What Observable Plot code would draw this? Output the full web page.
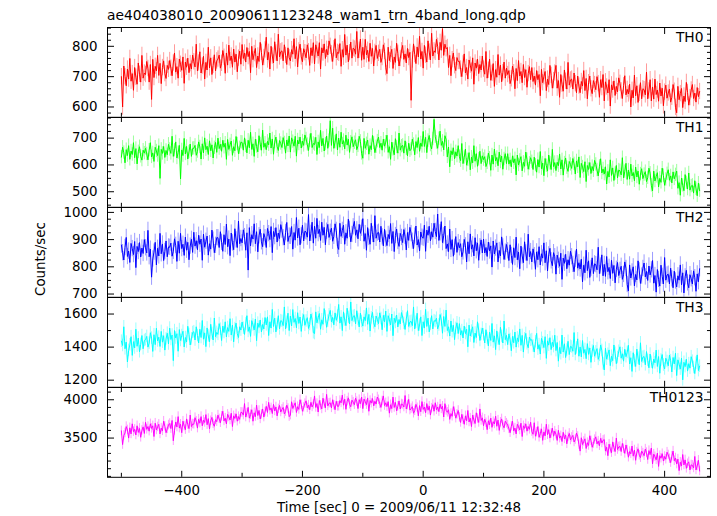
<!DOCTYPE html>
<html><head><meta charset="utf-8">
<script src="https://cdn.jsdelivr.net/npm/d3@7"></script>
<script src="https://cdn.jsdelivr.net/npm/@observablehq/plot@0.6"></script>
<style>
body{margin:0;background:#fff;}
#chart{position:relative;width:717px;height:516px;font-family:"DejaVu Sans",sans-serif;color:#000;background:#fff;overflow:hidden;}
#chart svg{position:absolute;left:0;}
.title{position:absolute;left:107px;top:9px;font-size:13.8px;line-height:1;white-space:nowrap;}
.xlabel{position:absolute;left:399px;top:500.7px;font-size:13.4px;line-height:1;white-space:nowrap;transform:translateX(-50%);}
.ylabel{position:absolute;left:41px;top:259px;font-size:13.4px;line-height:1;white-space:nowrap;transform:translate(-50%,-50%) rotate(-90deg);}
</style></head><body>
<div id="chart">
  <div class="title">ae404038010_20090611123248_wam1_trn_4band_long.qdp</div>
  <div class="ylabel">Counts/sec</div>
  <div class="xlabel">Time [sec] 0 = 2009/06/11 12:32:48</div>
</div>
<script>
// ---- data ----
const tStart = -500, tStep = 2; // sample time grid (sec)
const bandNames = ["TH0", "TH1", "TH2", "TH3", "TH0123"];
const bandColors = ["#ff0000", "#00ff00", "#0000ff", "#00ffff", "#ff00ff"];
const bandErrors = [27, 25, 30, 38, 62];

const th0 = [
700,600,735,700,670,725,692,760,685,710,655,730,698,675,745,708,682,770,695,712,
707,750,727,682,740,625,757,697,734,719,770,704,744,677,730,752,710,694,737,724,
753,728,703,745,778,715,733,695,758,741,721,765,678,748,731,761,713,743,725,771,
749,732,807,719,745,782,712,735,767,692,747,722,797,729,762,707,737,772,719,752,
758,771,728,744,786,764,711,778,738,804,753,768,731,791,748,774,716,761,784,741,
806,760,778,748,796,766,783,713,800,756,776,793,730,768,750,813,780,738,763,788,
830,755,780,725,800,768,745,815,778,752,840,765,782,785,752,805,770,740,795,762,
752,789,774,825,759,799,732,785,807,765,749,792,779,762,805,782,737,795,769,812,
742,805,788,768,812,725,795,778,808,760,790,772,818,800,775,750,792,825,762,780,
777,809,734,789,764,839,771,804,749,779,814,761,794,791,774,849,761,787,824,754,
797,757,823,772,787,750,810,767,793,735,780,803,760,777,790,747,763,805,783,730,
710,797,753,773,790,727,765,747,810,777,735,760,785,803,757,775,745,793,763,780,
622,755,808,773,743,798,765,833,758,783,728,803,771,748,818,781,755,843,768,785,
780,823,800,755,813,787,858,770,807,792,796,730,770,703,756,778,736,720,763,750,
750,725,700,742,775,712,730,692,755,738,718,762,675,745,728,758,710,740,722,768,
725,708,783,695,721,758,688,711,743,668,723,698,773,705,738,683,713,748,695,728,
707,720,677,693,735,713,660,727,687,753,702,717,680,740,697,723,665,710,733,690,
730,684,702,672,720,690,707,637,724,680,700,717,654,692,674,737,704,662,687,712,
737,662,687,632,707,675,652,722,685,659,747,672,689,692,659,712,677,647,702,669,
647,684,669,720,654,694,627,680,702,660,644,687,674,657,700,677,632,690,664,707,
620,683,666,646,690,603,673,656,686,638,668,650,696,678,653,628,670,703,640,658,
643,675,600,655,630,705,637,670,615,645,680,627,660,657,640,715,627,653,690,620,
666,626,692,641,656,619,679,636,662,604,649,672,629,646,659,616,632,674,652,599,
581,668,624,644,661,598,636,618,681,648,606,631,656,674,628,646,616,664,634,651];

const th1 = [
629,666,646,608,657,635,672,621,652,639,683,627,661,604,649,668,632,618,655,644,
662,641,619,655,683,630,645,613,666,652,635,672,550,658,643,669,628,654,638,677,
658,643,707,632,655,686,626,646,673,548,656,635,699,641,669,622,648,678,632,661,
662,673,636,650,686,667,622,679,645,701,657,670,639,690,653,675,626,664,684,647,
700,661,677,651,692,666,681,621,695,658,675,689,636,668,653,706,678,642,664,685,
684,655,701,671,645,692,664,722,658,679,632,696,669,649,709,678,655,730,666,681,
657,688,675,719,663,697,640,685,704,668,654,691,680,665,702,682,644,693,671,708,
648,701,687,670,707,633,693,678,704,663,689,673,712,697,676,654,690,718,665,680,
676,703,639,686,665,729,671,699,652,678,708,662,691,765,673,737,662,685,716,656,
700,666,722,678,691,660,711,674,696,647,685,705,668,683,694,657,671,707,688,643,
625,699,662,679,693,640,672,657,710,682,646,668,689,704,665,681,655,696,670,685,
711,647,668,621,685,658,638,698,667,644,719,655,670,673,644,690,660,634,681,653,
659,696,676,638,687,665,702,651,682,669,725,669,703,646,691,710,674,660,697,770,
705,684,662,698,726,673,688,656,709,695,630,667,593,653,638,664,623,649,633,672,
631,616,680,605,628,659,599,619,646,582,629,608,672,614,642,595,621,651,605,634,
620,631,594,608,644,625,580,637,603,659,615,628,597,648,611,633,584,622,642,605,
642,603,619,593,634,608,623,563,637,600,617,631,578,610,595,648,620,584,606,627,
612,583,629,599,573,620,592,650,586,607,560,624,597,577,637,606,583,658,594,609,
579,610,597,641,585,619,562,607,626,590,576,613,602,587,624,604,566,615,593,630,
553,606,592,575,612,538,598,583,609,568,594,578,617,602,581,559,595,623,570,585,
566,593,529,576,555,619,561,589,542,568,598,552,581,578,563,627,552,575,606,546,
581,547,603,559,572,541,592,555,577,528,566,586,549,564,575,538,552,588,569,524,
503,577,540,557,571,518,550,535,588,560,524,546,567,582,543,559,533,574,548,563,
577,513,534,487,551,524,504,564,533,510,570,506,521,524,495,541,511,485,532,504];

const th2 = [
880,852,825,871,908,838,858,816,886,867,845,893,797,875,856,889,836,869,849,900,
870,851,934,837,865,762,829,854,890,807,868,840,923,848,884,823,856,895,837,873,
872,887,839,857,903,879,820,894,850,923,867,883,842,909,861,890,826,876,901,853,
927,876,896,863,916,883,902,824,920,872,894,913,843,885,865,935,898,852,879,907,
907,871,929,890,857,918,882,957,874,902,841,924,888,863,940,899,871,968,885,904,
888,936,911,861,925,788,944,877,918,902,958,885,929,855,914,938,892,874,922,907,
871,941,922,900,948,852,930,911,944,891,924,904,955,935,907,880,926,963,893,913,
912,948,865,926,898,981,906,942,881,914,953,895,931,928,909,992,895,923,964,887,
949,905,978,922,938,897,964,916,945,881,931,956,908,927,942,894,912,958,934,875,
864,960,912,934,953,883,925,905,975,938,892,919,947,967,916,936,903,956,923,942,
977,894,922,861,944,908,883,960,919,891,988,905,924,927,891,949,910,877,938,902,
878,919,903,959,886,930,856,915,939,893,875,923,908,889,937,912,862,926,897,945,
922,894,867,913,950,880,900,858,928,909,905,953,857,935,916,949,896,929,909,960,
930,911,994,897,925,966,889,914,950,867,884,856,939,864,900,839,872,911,853,889,
870,885,837,855,901,877,818,892,848,921,865,881,840,907,859,888,824,874,899,851,
902,851,871,838,891,858,877,799,895,847,869,888,818,860,840,910,873,827,854,882,
859,823,881,842,809,870,834,909,826,854,793,876,840,815,892,851,823,920,837,856,
818,866,841,791,855,826,874,807,848,832,888,815,859,785,844,868,822,804,852,837,
773,843,824,802,850,754,832,813,846,793,826,806,857,837,809,782,828,865,795,815,
792,828,745,806,778,861,786,822,761,794,833,775,811,808,789,872,775,803,844,767,
809,765,838,782,798,757,824,776,805,741,791,816,768,787,802,754,772,818,794,735,
711,807,759,781,800,730,772,752,822,785,739,766,794,814,763,783,750,803,770,789,
823,740,768,707,790,754,729,806,765,737,834,751,770,773,737,795,756,723,784,748,
726,767,751,807,734,778,704,763,787,741,723,771,756,737,785,760,710,774,745,793];

const th3 = [
1436,1410,1523,1390,1430,1310,1380,1414,1463,1350,1433,1395,1508,1405,1455,1372,1417,1470,1390,1440,
1445,1465,1400,1424,1487,1454,1374,1475,1415,1514,1437,1460,1404,1495,1430,1469,1382,1450,1484,1419,
1515,1446,1473,1318,1500,1455,1481,1375,1506,1440,1470,1496,1401,1458,1431,1526,1476,1413,1450,1488,
1493,1443,1523,1470,1425,1508,1458,1561,1448,1486,1403,1516,1467,1433,1538,1483,1443,1576,1463,1489,
1477,1542,1508,1440,1527,1488,1553,1462,1518,1495,1572,1473,1533,1432,1512,1545,1482,1458,1523,1503,
1552,1514,1477,1540,1590,1495,1522,1465,1560,1534,1504,1570,1439,1545,1519,1564,1492,1537,1510,1579,
1534,1583,1470,1553,1515,1628,1525,1575,1492,1537,1590,1510,1560,1556,1530,1643,1510,1550,1605,1500,
1588,1528,1627,1550,1573,1517,1608,1543,1582,1495,1563,1597,1532,1558,1578,1513,1537,1600,1567,1487,
1482,1613,1547,1577,1603,1508,1565,1538,1633,1583,1520,1557,1595,1622,1553,1580,1535,1607,1562,1588,
1658,1545,1583,1500,1613,1564,1530,1635,1580,1540,1673,1560,1586,1590,1540,1620,1567,1522,1605,1555,
1527,1583,1560,1637,1538,1598,1497,1577,1610,1547,1523,1588,1568,1542,1607,1573,1505,1592,1553,1618,
1495,1590,1564,1534,1600,1469,1575,1549,1594,1522,1567,1540,1609,1582,1544,1507,1570,1620,1525,1552,
1556,1530,1643,1510,1550,1605,1500,1534,1583,1470,1553,1515,1628,1525,1575,1492,1537,1590,1510,1560,
1555,1575,1510,1534,1597,1564,1484,1585,1525,1624,1500,1523,1467,1558,1493,1532,1445,1513,1547,1482,
1542,1473,1500,1455,1527,1482,1508,1402,1533,1467,1497,1523,1428,1485,1458,1553,1503,1440,1477,1515,
1475,1425,1505,1452,1407,1490,1440,1543,1430,1468,1385,1498,1449,1415,1520,1465,1425,1558,1445,1471,
1415,1480,1446,1378,1465,1426,1491,1400,1456,1433,1510,1411,1471,1370,1450,1483,1420,1396,1461,1441,
1445,1407,1370,1433,1483,1388,1415,1358,1453,1427,1397,1463,1332,1438,1412,1457,1385,1430,1403,1472,
1379,1428,1315,1398,1360,1473,1370,1420,1337,1382,1435,1355,1405,1401,1375,1488,1355,1395,1450,1345,
1401,1341,1440,1363,1386,1330,1421,1356,1395,1308,1376,1410,1345,1371,1391,1326,1350,1413,1380,1300,
1262,1393,1327,1357,1383,1288,1345,1318,1413,1363,1300,1337,1375,1402,1333,1360,1315,1387,1342,1368,
1411,1298,1336,1253,1366,1317,1283,1388,1333,1293,1426,1313,1339,1343,1293,1373,1320,1275,1358,1308,
1272,1328,1305,1382,1283,1343,1242,1322,1355,1292,1268,1333,1313,1287,1352,1318,1250,1337,1298,1363,
1228,1323,1297,1267,1333,1202,1308,1282,1327,1255,1300,1273,1342,1315,1277,1240,1303,1353,1258,1285];

const th0123 = [
3594,3415,3534,3566,3650,3606,3500,3634,3554,3686,3584,3614,3540,3660,3574,3626,3510,3600,3646,3560,
3706,3614,3650,3590,3686,3626,3660,3520,3694,3606,3646,3680,3554,3630,3594,3720,3654,3570,3620,3670,
3690,3624,3730,3465,3600,3710,3644,3780,3630,3680,3570,3720,3656,3610,3750,3676,3624,3800,3650,3684,
3680,3766,3720,3630,3746,3694,3780,3660,3734,3704,3806,3674,3754,3620,3726,3770,3686,3654,3740,3714,
3800,3750,3700,3784,3850,3724,3760,3684,3810,3776,3736,3824,3650,3790,3756,3816,3720,3780,3744,3836,
3834,3800,3950,3774,3826,3900,3760,3806,3870,3720,3830,3780,3930,3794,3860,3750,3810,3880,3774,3840,
3914,3834,3966,3864,3894,3820,3940,3854,3906,3790,3880,3926,3840,3874,3900,3814,3846,3930,3886,3780,
3800,3974,3886,3926,3960,3834,3910,3874,4000,3934,3850,3900,3950,3986,3894,3930,3870,3966,3906,3940,
4050,3900,3950,3840,3990,3926,3880,4020,3946,3894,4070,3920,3954,3960,3894,4000,3930,3870,3980,3914,
3915,3989,3959,4061,3929,4009,3875,3981,4025,3941,3909,3995,3969,3935,4021,3975,3885,4001,3949,4035,
3884,4010,3976,3936,4024,3850,3990,3956,4016,3920,3980,3944,4036,4000,3950,3900,3984,4050,3924,3960,
3911,3975,3825,3935,3885,4035,3899,3965,3855,3915,3985,3879,3945,3939,3905,4055,3879,3931,4005,3865,
3884,3910,3824,3856,3940,3896,3790,3924,3844,3976,3874,3904,3830,3950,3864,3916,3800,3890,3936,3850,
3961,3869,3905,3845,3941,3881,3915,3775,3949,3861,3836,3870,3744,3820,3784,3910,3844,3760,3810,3860,
3770,3704,3810,3740,3680,3790,3724,3860,3710,3760,3650,3800,3736,3690,3830,3756,3704,3880,3730,3764,
3660,3746,3700,3610,3726,3674,3760,3640,3714,3684,3786,3654,3734,3600,3706,3750,3666,3634,3720,3694,
3670,3620,3570,3654,3720,3594,3630,3554,3680,3646,3606,3694,3520,3660,3626,3686,3590,3650,3614,3706,
3584,3550,3700,3524,3576,3650,3510,3556,3620,3470,3580,3530,3680,3544,3610,3500,3560,3630,3524,3590,
3549,3469,3601,3499,3529,3455,3575,3489,3541,3425,3515,3561,3475,3509,3535,3449,3481,3565,3521,3415,
3330,3504,3416,3456,3490,3364,3440,3404,3530,3464,3380,3430,3480,3516,3424,3460,3400,3496,3436,3470,
3480,3330,3380,3270,3420,3356,3310,3450,3376,3324,3500,3350,3384,3390,3324,3430,3360,3300,3410,3344,
3250,3324,3294,3396,3264,3344,3210,3316,3360,3276,3244,3330,3304,3270,3356,3310,3220,3336,3284,3370,
3164,3290,3256,3216,3304,3130,3270,3236,3296,3200,3260,3224,3316,3280,3230,3180,3264,3330,3204,3240,
3161,3225,3075,3185,3135,3285,3149,3215,3105,3165,3190,3084,3150,3144,3110,3260,3084,3136,3210,3070];

const bandSeries = [th0, th1, th2, th3, th0123];
const yDomains = [[566, 862], [442, 777], [688, 1018], [1157, 1700], [2988, 4160]];
const yMajorTicks = [[600, 700, 800], [500, 600, 700], [700, 800, 900, 1000], [1200, 1400, 1600], [3500, 4000]];
const yMinorSteps = [20, 25, 25, 100, 100];
const xDomain = [-523, 476];
const xMajorTicks = [-400, -200, 0, 200, 400];
const xMinorTicks = [-500, -300, -100, 100, 300];

// ---- drawing ----
const W = 717, mL = 107, mR = 7, panelH = 89.8, firstTop = 27.3, bottomMargin = 40;
const fmt = d => (d < 0 ? "\u2212" + (-d) : String(d));
const chart = document.getElementById("chart");

bandSeries.forEach((vals, i) => {
  const last = i === bandSeries.length - 1;
  const rows = vals.map((v, k) => ({t: tStart + k * tStep, v}));
  const color = bandColors[i], err = bandErrors[i];
  const [lo, hi] = yDomains[i];
  const step = yMinorSteps[i];
  const minor = d3.range(Math.ceil(lo / step) * step, hi, step).filter(v => !yMajorTicks[i].includes(v));
  const marks = [
    Plot.ruleX(rows, {x: "t", y1: d => d.v - err, y2: d => d.v + err, stroke: color, strokeOpacity: 0.4, strokeWidth: 1, clip: true}),
    Plot.lineY(rows, {x: "t", y: "v", stroke: color, strokeWidth: 1, clip: true}),
    Plot.axisY({anchor: "left", ticks: yMajorTicks[i], tickSize: 7, dx: 7, fill: "none", label: null, stroke: "#000"}),
    Plot.axisY({anchor: "left", ticks: minor, tickSize: 4, dx: 4, fill: "none", label: null, stroke: "#000"}),
    Plot.axisY({anchor: "right", ticks: yMajorTicks[i], tickSize: 7, dx: -7, fill: "none", label: null, stroke: "#000"}),
    Plot.axisY({anchor: "right", ticks: minor, tickSize: 4, dx: -4, fill: "none", label: null, stroke: "#000"}),
    Plot.axisY({anchor: "left", ticks: yMajorTicks[i], tickSize: 0, tickPadding: 10, tickFormat: fmt, label: null, fill: "#000"}),
    Plot.axisX({anchor: "bottom", ticks: xMajorTicks, tickSize: 6, dy: -6, fill: "none", label: null, stroke: "#000"}),
    Plot.axisX({anchor: "bottom", ticks: xMinorTicks, tickSize: 4, dy: -4, fill: "none", label: null, stroke: "#000"}),
    Plot.axisX({anchor: "top", ticks: xMajorTicks, tickSize: 6, dy: 6, fill: "none", label: null, stroke: "#000"}),
    Plot.axisX({anchor: "top", ticks: xMinorTicks, tickSize: 4, dy: 4, fill: "none", label: null, stroke: "#000"}),
    Plot.frame({stroke: "#000", strokeWidth: 1}),
    Plot.text([bandNames[i]], {text: d => d, frameAnchor: "top-right", dx: -7, dy: 5, textAnchor: "end", lineAnchor: "top", fontSize: 13.8, fill: "#000"})
  ];
  if (last) marks.push(Plot.axisX({anchor: "bottom", ticks: xMajorTicks, tickSize: 0, tickPadding: 8, tickFormat: fmt, label: null, fill: "#000"}));
  const svg = Plot.plot({
    width: W,
    height: panelH + (last ? bottomMargin : 0),
    marginLeft: mL, marginRight: mR, marginTop: 0, marginBottom: last ? bottomMargin : 0,
    x: {domain: xDomain, label: null},
    y: {domain: [lo, hi], label: null},
    style: {fontFamily: "DejaVu Sans, sans-serif", fontSize: "13.4px", background: "transparent", overflow: "visible", color: "#000"},
    marks
  });
  svg.style.top = (firstTop + i * panelH) + "px";
  chart.appendChild(svg);
});
</script>
</body></html>
